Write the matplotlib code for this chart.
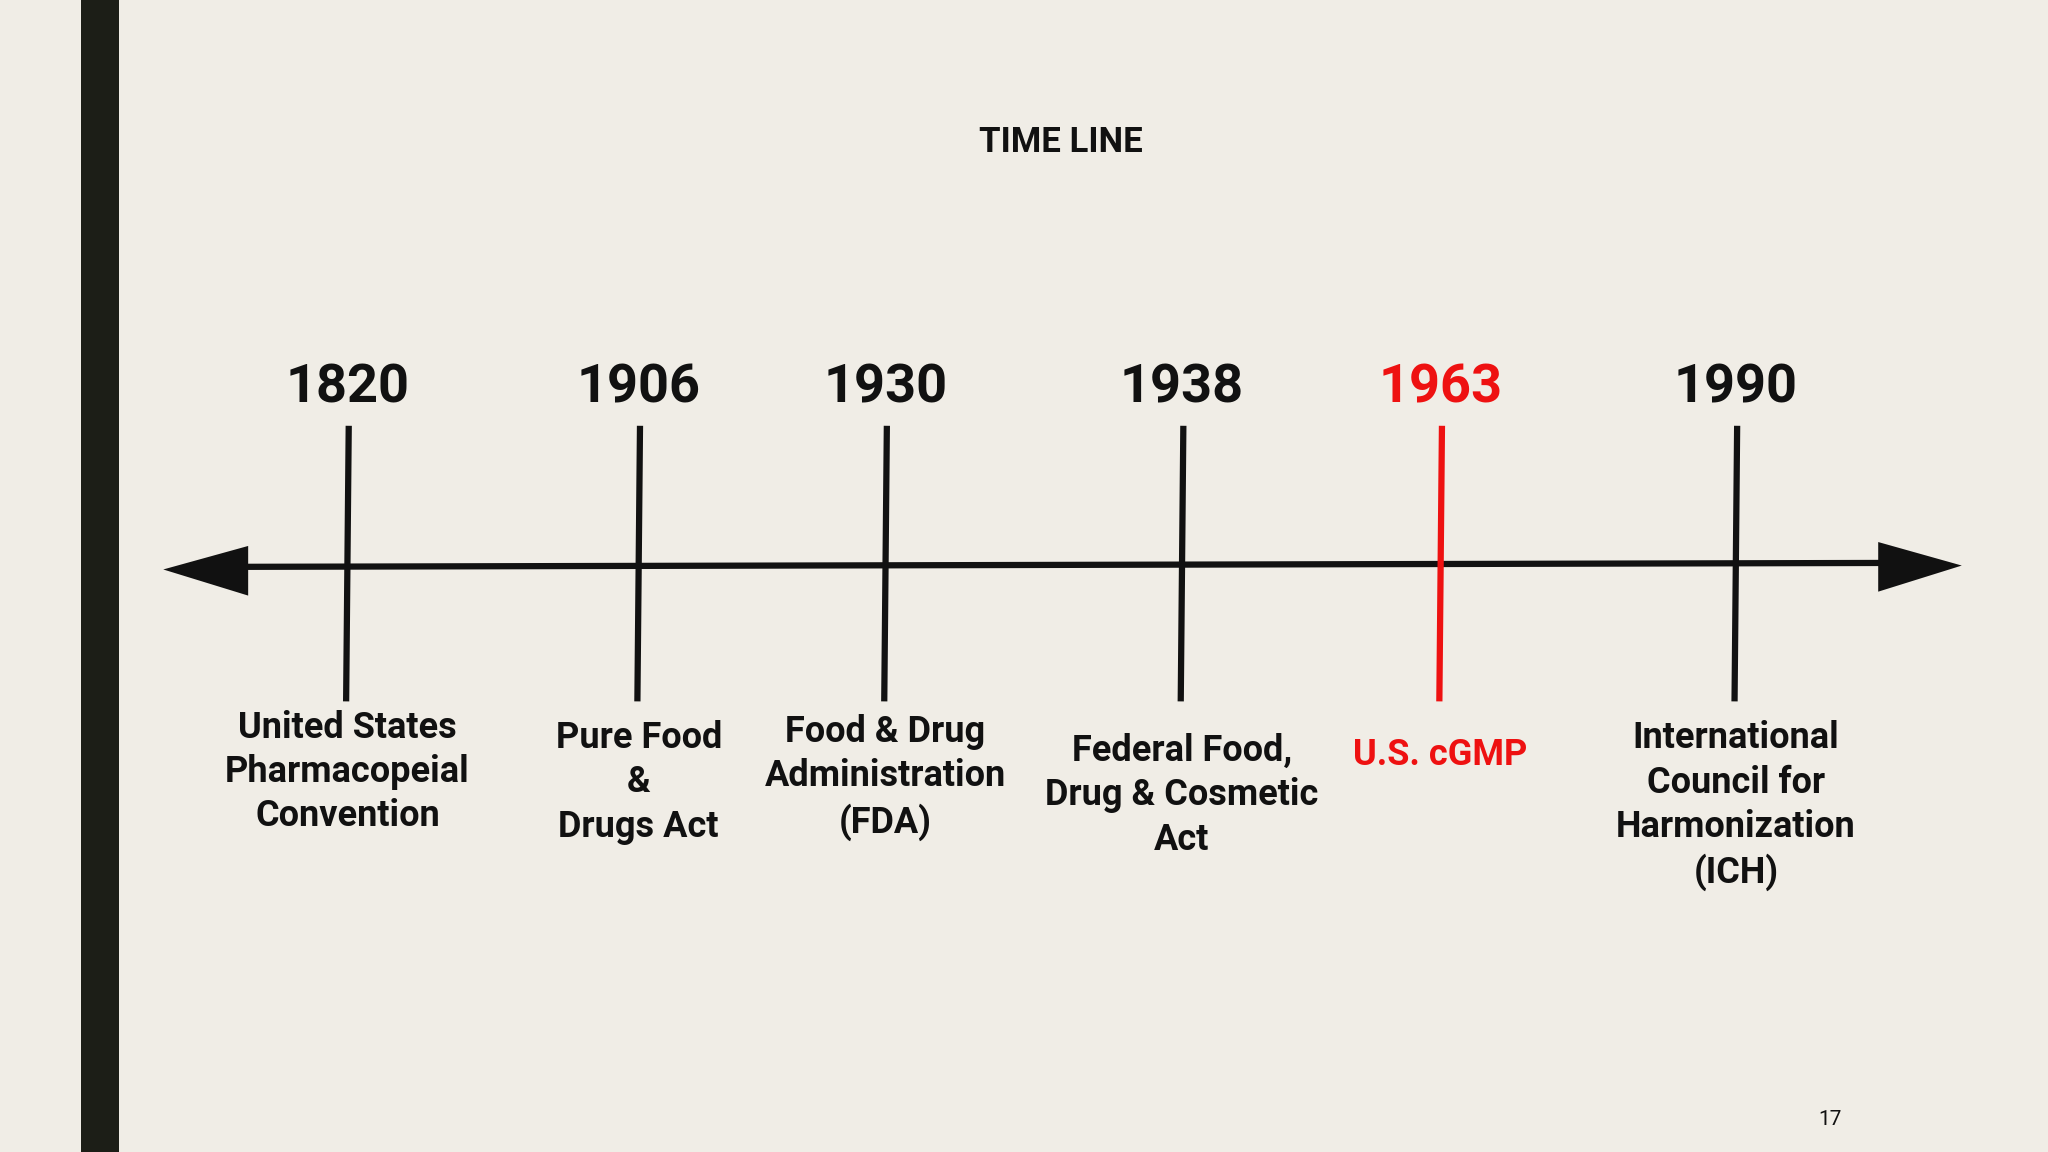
import matplotlib.pyplot as plt
from matplotlib.patches import Polygon, Rectangle

# ---- data ----
YEARS = ["1820", "1906", "1930", "1938", "1963", "1990"]
EVENTS = ["United States\nPharmacopeial\nConvention",
          "Pure Food\n&\nDrugs Act",
          "Food & Drug\nAdministration\n(FDA)",
          "Federal Food,\nDrug & Cosmetic\nAct",
          "U.S. cGMP",
          "International\nCouncil for\nHarmonization\n(ICH)"]
TICK_X = [266, 489, 678, 905, 1103, 1329]      # along the line (slide px)
LABEL_Y = [591, 599, 595, 609, 578, 617]       # centre of event text
COLORS = ["#111111"] * 4 + ["#ee1111", "#111111"]

BG = "#f0ede6"
W, H = 1568, 882
FONT = "Roboto"

fig = plt.figure(figsize=(20.48, 11.52), dpi=100, facecolor=BG)
ax = fig.add_axes([0, 0, 1, 1])
ax.set_xlim(0, W); ax.set_ylim(H, 0); ax.axis("off")
ax.set_facecolor(BG)

# dark bar on the left
ax.add_patch(Rectangle((62, 0), 29, H, color="#1c1e17", lw=0))

ax.text(812, 109, "TIME LINE", ha="center", va="center", fontsize=25,
        fontweight="bold", family=FONT, color="#111111")

# main line with arrow heads
ax.plot([180, 1445], [434, 431], color="#111111", lw=4.5, solid_capstyle="butt")
ax.add_patch(Polygon([[125, 436], [190, 418], [190, 456]], color="#111111", lw=0))
ax.add_patch(Polygon([[1502, 433], [1438, 415], [1438, 453]], color="#111111", lw=0))

for yr, ev, x, ly, c in zip(YEARS, EVENTS, TICK_X, LABEL_Y, COLORS):
    ax.plot([x + 1, x - 1], [326, 537], color=c, lw=4.5, solid_capstyle="butt")
    ax.text(x, 297, yr, ha="center", va="center", fontsize=39, fontweight="bold",
            family=FONT, color=c)
    ax.text(x, ly, ev, ha="center", va="center", fontsize=26, fontweight="bold",
            family=FONT, color=c, linespacing=1.3)

ax.text(1401, 857, "17", ha="center", va="center", fontsize=15, family=FONT,
        color="#111111")

fig.savefig("out.png", dpi=100, facecolor=BG)
